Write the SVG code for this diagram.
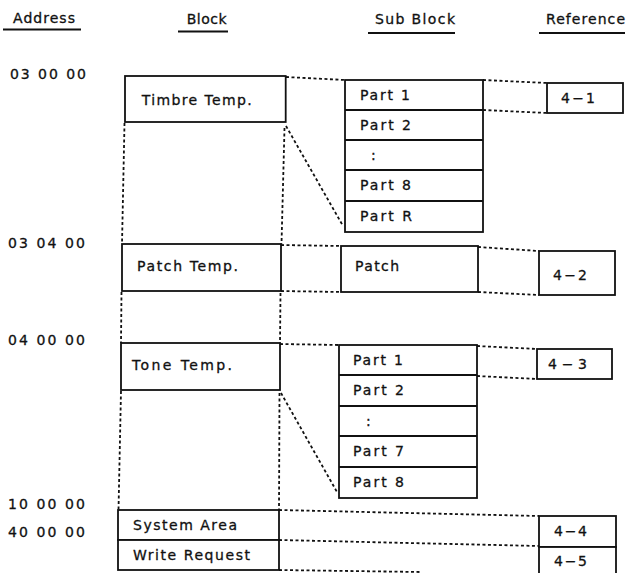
<svg xmlns="http://www.w3.org/2000/svg" width="628" height="573" viewBox="0 0 628 573">
<style>
text{font-family:"DejaVu Sans","Liberation Sans",Arial,sans-serif;font-size:14px;fill:#111;stroke:#111;stroke-width:0.3;}
.box{fill:#fff;stroke:#111;stroke-width:1.8;}
.sep{stroke:#111;stroke-width:1.8;fill:none;}
.ul{stroke:#111;stroke-width:2;}
.dot{stroke:#111;stroke-width:1.8;stroke-dasharray:3 2.5;fill:none;}
</style>
<rect width="628" height="573" fill="#fff"/>
<g id="headers">
<text x="13" y="23" textLength="62" lengthAdjust="spacing">Address</text>
<line class="ul" x1="3" y1="29.5" x2="81" y2="29.5"/>
<text x="186.7" y="24" textLength="40" lengthAdjust="spacing">Block</text>
<line class="ul" x1="178" y1="31.5" x2="228" y2="31.5"/>
<text x="375" y="24" textLength="80" lengthAdjust="spacing">Sub Block</text>
<line class="ul" x1="368" y1="33" x2="455" y2="33"/>
<text x="546" y="24" textLength="79" lengthAdjust="spacing">Reference</text>
<line class="ul" x1="539" y1="33" x2="625" y2="33"/>
</g>
<g id="addresses">
<text x="10" y="79" textLength="76" lengthAdjust="spacing">03 00 00</text>
<text x="8" y="248" textLength="77" lengthAdjust="spacing">03 04 00</text>
<text x="8" y="345" textLength="77" lengthAdjust="spacing">04 00 00</text>
<text x="8" y="509" textLength="77" lengthAdjust="spacing">10 00 00</text>
<text x="8" y="537" textLength="77" lengthAdjust="spacing">40 00 00</text>
</g>
<g id="connectors">
<path class="dot" d="M286 77 L345 80"/>
<path class="dot" d="M286 126 L343 226"/>
<path class="dot" d="M124.5 123 L122 244"/>
<path class="dot" d="M284.5 128 L281.5 244"/>
<path class="dot" d="M483 80 L547 83"/>
<path class="dot" d="M483 110 L547 113"/>
<path class="dot" d="M281 245 L341 246"/>
<path class="dot" d="M281 291 L341 292"/>
<path class="dot" d="M478 247 L539 251"/>
<path class="dot" d="M478 292 L539 295"/>
<path class="dot" d="M121.5 292 L121 343"/>
<path class="dot" d="M280.5 293 L280 343"/>
<path class="dot" d="M280 344 L339 345"/>
<path class="dot" d="M477 346 L537 349"/>
<path class="dot" d="M477 376 L537 379"/>
<path class="dot" d="M281 393 L337 492"/>
<path class="dot" d="M121 391 L118.5 510"/>
<path class="dot" d="M279.5 393 L279 510"/>
<path class="dot" d="M279 510 L539 516"/>
<path class="dot" d="M279 540 L539 546"/>
<path class="dot" d="M279 570 L420 572"/>
</g>
<g id="timbre-temp">
<rect class="box" x="125" y="76" width="160.7" height="46"/>
<text x="141.7" y="105" textLength="110" lengthAdjust="spacing">Timbre Temp.</text>
</g>
<g id="timbre-parts">
<rect class="box" x="345" y="80" width="138" height="152"/>
<path class="sep" d="M345 110 H483 M345 140 H483 M345 170 H483 M345 201 H483"/>
<text x="360" y="100" textLength="50" lengthAdjust="spacing">Part 1</text>
<text x="360" y="130" textLength="51" lengthAdjust="spacing">Part 2</text>
<text x="371" y="160">:</text>
<text x="360" y="190" textLength="51" lengthAdjust="spacing">Part 8</text>
<text x="360" y="221" textLength="52" lengthAdjust="spacing">Part R</text>
</g>
<g id="ref-4-1">
<rect class="box" x="547" y="83" width="76" height="30"/>
<text x="561" y="103" textLength="34" lengthAdjust="spacing">4−1</text>
</g>
<g id="patch-temp">
<rect class="box" x="122" y="244" width="159" height="47"/>
<text x="137" y="271" textLength="101" lengthAdjust="spacing">Patch Temp.</text>
</g>
<g id="patch">
<rect class="box" x="341" y="246" width="137" height="46"/>
<text x="355" y="271" textLength="44" lengthAdjust="spacing">Patch</text>
</g>
<g id="ref-4-2">
<rect class="box" x="539" y="251" width="76" height="44"/>
<text x="553" y="280" textLength="34" lengthAdjust="spacing">4−2</text>
</g>
<g id="tone-temp">
<rect class="box" x="121" y="343" width="159" height="47"/>
<text x="132" y="370" textLength="100" lengthAdjust="spacing">Tone Temp.</text>
</g>
<g id="tone-parts">
<rect class="box" x="339" y="345" width="138" height="153"/>
<path class="sep" d="M339 375 H477 M339 406 H477 M339 436 H477 M339 467 H477"/>
<text x="353" y="365" textLength="50" lengthAdjust="spacing">Part 1</text>
<text x="353" y="395" textLength="51" lengthAdjust="spacing">Part 2</text>
<text x="366" y="426">:</text>
<text x="353" y="456" textLength="51" lengthAdjust="spacing">Part 7</text>
<text x="353" y="487" textLength="51" lengthAdjust="spacing">Part 8</text>
</g>
<g id="ref-4-3">
<rect class="box" x="537" y="349" width="75" height="30"/>
<text x="548" y="369" textLength="39" lengthAdjust="spacing">4−3</text>
</g>
<g id="system-area">
<rect class="box" x="118" y="510" width="161" height="30"/>
<text x="133" y="530" textLength="104" lengthAdjust="spacing">System Area</text>
</g>
<g id="write-request">
<rect class="box" x="118" y="540" width="161" height="30"/>
<text x="133" y="560" textLength="117" lengthAdjust="spacing">Write Request</text>
</g>
<g id="ref-4-4">
<rect class="box" x="539" y="516" width="77" height="31"/>
<text x="554" y="536" textLength="33" lengthAdjust="spacing">4−4</text>
</g>
<g id="ref-4-5">
<rect class="box" x="539" y="547" width="77" height="32"/>
<text x="554" y="566" textLength="33" lengthAdjust="spacing">4−5</text>
</g>
</svg>
